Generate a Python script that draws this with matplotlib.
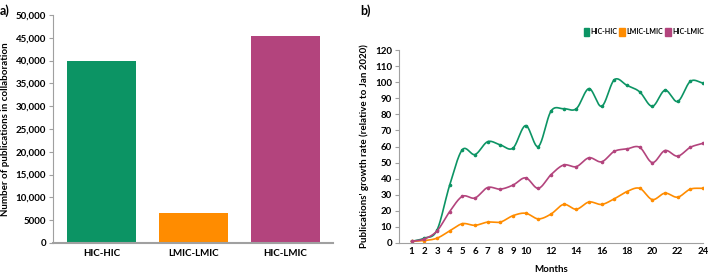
import numpy as np
import matplotlib
matplotlib.use("Agg")
import matplotlib.pyplot as plt
from matplotlib.patches import Patch
from matplotlib.ticker import FuncFormatter

plt.rcParams['font.family'] = ['Lato', 'DejaVu Sans']
plt.rcParams['font.weight'] = 'bold'

# panel a data
groups = ["HIC-HIC", "LMIC-LMIC", "HIC-LMIC"]
totals = [40000, 6650, 45500]

# panel b data
months = list(range(1, 25))
hic_hic = [1, 3, 8, 36, 58, 55, 63, 61, 59, 73, 60, 82, 83.5, 83.5, 96, 85,
           101.5, 98, 94, 85, 95, 88, 100.5, 99.5]
lmic_lmic = [1, 1.5, 3, 7.5, 12, 11, 13, 13, 17, 18.5, 15, 18, 24, 21, 25.5, 24,
             27.5, 32, 34, 27, 31, 28.5, 33.5, 34]
hic_lmic = [1, 2.5, 7.5, 19.5, 29, 28, 34.5, 33.5, 36, 40.5, 34, 42.5, 48.5, 47.5,
            53, 50.5, 57, 58.5, 59.5, 50, 57.5, 54, 59.5, 62]
month_ticks = [1, 2, 3, 4, 5, 6, 7, 8, 9, 10, 12, 14, 16, 18, 20, 22, 24]

colors = ["#0C9464", "#FF8C00", "#B3447D"]
axis_grey = "#A0A0A0"


def smooth(x, y, n=20):
    # Catmull-Rom curve through the points, like a spreadsheet "smoothed line"
    x = np.asarray(x, float)
    y = np.asarray(y, float)
    px = np.concatenate([[2 * x[0] - x[1]], x, [2 * x[-1] - x[-2]]])
    py = np.concatenate([[2 * y[0] - y[1]], y, [2 * y[-1] - y[-2]]])
    xs, ys = [], []
    t = np.linspace(0, 1, n, endpoint=False)
    for i in range(1, len(px) - 2):
        for p, out in ((px, xs), (py, ys)):
            p0, p1, p2, p3 = p[i - 1], p[i], p[i + 1], p[i + 2]
            out.extend(0.5 * (2 * p1 + (-p0 + p2) * t
                              + (2 * p0 - 5 * p1 + 4 * p2 - p3) * t ** 2
                              + (-p0 + 3 * p1 - 3 * p2 + p3) * t ** 3))
    xs.append(x[-1])
    ys.append(y[-1])
    return np.array(xs), np.array(ys)


fig = plt.figure(figsize=(7.08, 2.73), dpi=100)

# a) bars
ax1 = fig.add_axes([53 / 708, 30 / 273, 280 / 708, 228 / 273])
ax1.bar(range(3), totals, width=0.75, color=colors)
ax1.set_xlim(-0.53, 2.52)
ax1.set_ylim(0, 50000)
ax1.set_yticks(range(0, 50001, 5000))
ax1.yaxis.set_major_formatter(FuncFormatter(
    lambda v, p: "0" if v == 0 else ("5000" if v == 5000 else f"{int(v):,}")))
ax1.set_xticks(range(3))
ax1.set_xticklabels(groups)
ax1.set_ylabel("Number of publications in collaboration", fontsize=7, fontweight='bold')
for s in ["top", "right"]:
    ax1.spines[s].set_visible(False)
ax1.spines["left"].set_color(axis_grey)
ax1.spines["left"].set_linewidth(0.8)
ax1.spines["bottom"].set_color(axis_grey)
ax1.spines["bottom"].set_linewidth(1.5)
ax1.tick_params(axis='y', labelsize=7, color=axis_grey, length=3, width=0.8, pad=2)
ax1.tick_params(axis='x', labelsize=7, length=0, pad=4)
fig.text(0.0, 0.985, "a)", fontsize=9, fontweight='bold', va='top')

# b) lines
ax2 = fig.add_axes([399 / 708, 30 / 273, 304 / 708, 193 / 273])
for ys, c in zip([hic_hic, lmic_lmic, hic_lmic], colors):
    sx, sy = smooth(months, ys)
    ax2.plot(sx, sy, color=c, lw=1.2)
    ax2.plot(months, ys, 'o', color=c, ms=1.6)
ax2.set_xlim(0, 24)
ax2.set_ylim(0, 120)
ax2.set_yticks(range(0, 121, 10))
ax2.set_xticks(month_ticks)
ax2.set_xlabel("Months", fontsize=7, fontweight='bold', labelpad=6)
ax2.set_ylabel("Publications' growth rate (relative to Jan 2020)", fontsize=7,
               fontweight='bold')
for s in ["top", "right"]:
    ax2.spines[s].set_visible(False)
ax2.spines["left"].set_color(axis_grey)
ax2.spines["left"].set_linewidth(0.8)
ax2.spines["bottom"].set_color(axis_grey)
ax2.spines["bottom"].set_linewidth(0.8)
ax2.tick_params(axis='y', labelsize=7, color=axis_grey, length=3, width=0.8, pad=2)
ax2.tick_params(axis='x', labelsize=7, length=0, pad=3)
fig.text(360 / 708, 0.985, "b)", fontsize=9, fontweight='bold', va='top')

handles = [Patch(color=c, label=g) for g, c in zip(groups, colors)]
fig.legend(handles=handles, loc='center right', bbox_to_anchor=(1.0, 1 - 32 / 273),
           ncol=3, frameon=False, fontsize=5, handlelength=0.8, handleheight=1.2,
           handletextpad=0.2, columnspacing=0.3, borderaxespad=0.2)

fig.savefig("out.png", dpi=100)
